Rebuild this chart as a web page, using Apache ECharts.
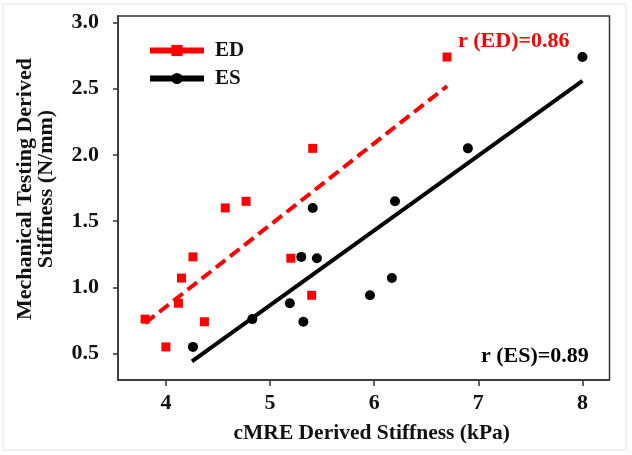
<!DOCTYPE html>
<html>
<head>
<meta charset="utf-8">
<script src="https://cdn.jsdelivr.net/npm/echarts@6/dist/echarts.min.js"></script>
<style>html,body{margin:0;padding:0;background:#fff;}#c{width:632px;height:455px;}</style>
</head>
<body>
<div id="c"></div>
<script>
// ED (end-diastole) points: cMRE stiffness (kPa), mechanical stiffness (N/mm)
const edX = [3.80, 4.00, 4.12, 4.15, 4.26, 4.37, 4.57, 4.77, 5.20, 5.40, 5.41, 6.70];
const edY = [0.76, 0.55, 0.88, 1.07, 1.23, 0.74, 1.60, 1.65, 1.22, 0.94, 2.05, 2.74];
// ES (end-systole) points
const esX = [4.26, 4.83, 5.19, 5.32, 5.30, 5.45, 5.41, 5.96, 6.17, 6.20, 6.90, 8.00];
const esY = [0.55, 0.76, 0.88, 0.74, 1.23, 1.22, 1.60, 0.94, 1.07, 1.65, 2.05, 2.74];
// regression lines (endpoints)
const edFitX = [3.80, 6.70];
const edFitY = [0.73, 2.52];
const esFitX = [4.25, 8.00];
const esFitY = [0.44, 2.56];
const xTicks = [4, 5, 6, 7, 8];
const yTicks = [0.5, 1.0, 1.5, 2.0, 2.5, 3.0];
const rED = 'r (ED)=0.86';
const rES = 'r (ES)=0.89';

const zip = (a, b) => a.map((v, i) => [v, b[i]]);
const FONT = '"Liberation Serif", "Times New Roman", serif';

const chart = echarts.init(document.getElementById('c'), null, {renderer: 'canvas'});
chart.setOption({
  backgroundColor: '#fff',
  animation: false,
  grid: {left: 118, top: 16, right: 22.5, bottom: 75, show: true, borderColor: '#333', borderWidth: 1.5},
  legend: {
    orient: 'vertical', left: 142, top: 35, itemWidth: 54, itemHeight: 14, itemGap: 7,
    textStyle: {fontFamily: FONT, fontWeight: 'bold', fontSize: 21, color: '#111', padding: [0, 0, 0, 6]},
    data: [
      {name: 'ED', lineStyle: {type: 'solid', width: 6, color: '#ff0000'}},
      {name: 'ES', lineStyle: {type: 'solid', width: 6, color: '#000'}}
    ]
  },
  xAxis: {
    type: 'value', min: 3.54, max: 8.26,
    name: 'cMRE Derived Stiffness (kPa)', nameLocation: 'middle', nameGap: 42,
    nameTextStyle: {fontFamily: FONT, fontWeight: 'bold', fontSize: 21.5, color: '#111', padding: [0, 0, 0, 16]},
    axisLine: {show: true, lineStyle: {color: '#333', width: 1.5}},
    axisTick: {show: true, length: 6, customValues: xTicks, lineStyle: {color: '#333', width: 1.5}},
    axisLabel: {customValues: xTicks, fontFamily: FONT, fontWeight: 'bold', fontSize: 22, color: '#111', margin: 12},
    splitLine: {show: false}
  },
  yAxis: {
    type: 'value', min: 0.3, max: 3.05,
    axisLine: {show: true, lineStyle: {color: '#333', width: 1.5}},
    axisTick: {show: true, length: 5, customValues: yTicks, lineStyle: {color: '#333', width: 1.5}},
    axisLabel: {customValues: yTicks, formatter: v => v.toFixed(1), fontFamily: FONT, fontWeight: 'bold', fontSize: 22, color: '#111', margin: 19},
    splitLine: {show: false}
  },
  graphic: [
    {type: 'rect', shape: {x: 3, y: 4, width: 623, height: 446}, style: {fill: 'none', stroke: '#e2e2e2', lineWidth: 1}, silent: true, z: -1},
    {type: 'text', x: 36, y: 189, rotation: Math.PI / 2,
      style: {text: 'Mechanical Testing Derived\nStiffness (N/mm)', font: 'bold 22px ' + FONT, fill: '#111', align: 'center', verticalAlign: 'middle', lineHeight: 21}},
    {type: 'text', x: 458, y: 41, style: {text: rED, font: 'bold 22px ' + FONT, fill: '#ff0000', align: 'left', verticalAlign: 'middle'}},
    {type: 'text', x: 481, y: 356, style: {text: rES, font: 'bold 22px ' + FONT, fill: '#000', align: 'left', verticalAlign: 'middle'}}
  ],
  series: [
    {name: 'ED', type: 'line', data: zip(edFitX, edFitY), symbol: 'rect', symbolSize: 14, showSymbol: false,
      lineStyle: {color: '#ff0000', width: 4, type: [12, 6]}, itemStyle: {color: '#ff0000'}, z: 2},
    {name: 'ES', type: 'line', data: zip(esFitX, esFitY), symbol: 'circle', symbolSize: 14, showSymbol: false,
      lineStyle: {color: '#000', width: 4}, itemStyle: {color: '#000'}, z: 2},
    {name: 'ED points', type: 'scatter', data: zip(edX, edY), symbol: 'rect', symbolSize: 9, itemStyle: {color: '#ff0000', opacity: 1}, z: 3},
    {name: 'ES points', type: 'scatter', data: zip(esX, esY), symbol: 'circle', symbolSize: 10, itemStyle: {color: '#000', opacity: 1}, z: 3}
  ]
});
</script>
</body>
</html>
